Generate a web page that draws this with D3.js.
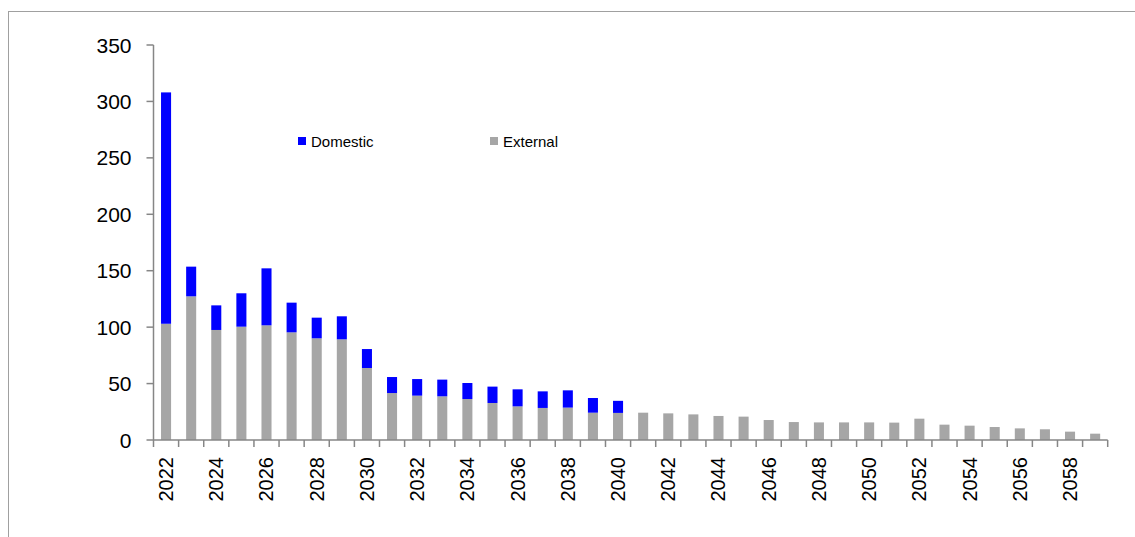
<!DOCTYPE html>
<html>
<head>
<meta charset="utf-8">
<script src="https://cdn.jsdelivr.net/npm/d3@7/dist/d3.min.js"></script>
<style>
  html, body { margin: 0; padding: 0; background: #fff; }
  svg { display: block; }
  text { font-family: "Liberation Sans", Arial, sans-serif; fill: #000; }
</style>
</head>
<body>
<svg id="chart" width="1135" height="537"></svg>
<script>
const years = d3.range(2022, 2060).map(String);
const domestic = [205, 26.3, 21.8, 29.6, 50.5, 26.3, 18.3, 20.4, 16.8, 14.2,
                  14.7, 14.8, 14.2, 14.5, 15.1, 14.7, 15.3, 13.0, 10.7, 0,
                  0, 0, 0, 0, 0, 0, 0, 0, 0, 0,
                  0, 0, 0, 0, 0, 0, 0, 0];
const external = [103, 127.3, 97.5, 100.4, 101.6, 95.4, 90.1, 89.2, 63.8, 41.6,
                  39.3, 38.7, 36.3, 32.8, 29.8, 28.4, 28.7, 24.2, 24.0, 24.2,
                  23.6, 22.7, 21.3, 20.7, 17.7, 15.9, 15.6, 15.6, 15.6, 15.4,
                  18.9, 13.6, 12.7, 11.5, 10.3, 9.5, 7.4, 5.6];
const yTicks = [0, 50, 100, 150, 200, 250, 300, 350];
const xLabels = years.filter((y, i) => i % 2 === 0);
const seriesNames = ["Domestic", "External"];
const seriesColors = ["#0000FF", "#A6A6A6"];

const svg = d3.select("#chart");

// outer frame
svg.append("rect")
  .attr("x", 8.5).attr("y", 11.5)
  .attr("width", 1140).attr("height", 540)
  .attr("fill", "none").attr("stroke", "#a0a0a0").attr("stroke-width", 1);

const x0 = 153.5, x1 = 1107.7;
const x = d3.scaleBand().domain(years).range([x0, x1]).paddingInner(0.6).paddingOuter(0.3);
const y = d3.scaleLinear().domain([0, 350]).range([440, 45]);

const data = years.map((yr, i) => ({ year: yr, Domestic: domestic[i], External: external[i] }));
const stack = d3.stack().keys(["External", "Domestic"]);
const stacked = stack(data);
const colorOf = { Domestic: seriesColors[0], External: seriesColors[1] };

svg.append("g").selectAll("g")
  .data(stacked).join("g")
  .attr("fill", d => colorOf[d.key])
  .selectAll("rect")
  .data(d => d.filter(p => p[1] - p[0] > 0)).join("rect")
  .attr("x", d => x(d.data.year))
  .attr("width", x.bandwidth())
  .attr("y", d => y(d[1]))
  .attr("height", d => y(d[0]) - y(d[1]));

const axisColor = "#868686";

// y axis
const yAxis = svg.append("g");
yAxis.append("line")
  .attr("x1", x0).attr("x2", x0).attr("y1", y(350)).attr("y2", y(0))
  .attr("stroke", axisColor).attr("stroke-width", 1.5);
yAxis.selectAll("line.tick").data(yTicks).join("line").attr("class", "tick")
  .attr("x1", x0 - 7).attr("x2", x0)
  .attr("y1", d => y(d)).attr("y2", d => y(d))
  .attr("stroke", axisColor).attr("stroke-width", 1.5);
yAxis.selectAll("text").data(yTicks).join("text")
  .attr("x", 131.5).attr("y", d => y(d))
  .attr("text-anchor", "end").attr("dominant-baseline", "central")
  .style("font-size", "21px")
  .text(d => d);

// x axis
const xAxis = svg.append("g");
xAxis.append("line")
  .attr("x1", x0).attr("x2", x1).attr("y1", y(0)).attr("y2", y(0))
  .attr("stroke", axisColor).attr("stroke-width", 1.5);
const step = x.step();
xAxis.selectAll("line.tick").data(d3.range(years.length + 1)).join("line").attr("class", "tick")
  .attr("x1", i => x0 + i * step).attr("x2", i => x0 + i * step)
  .attr("y1", y(0)).attr("y2", y(0) + 7)
  .attr("stroke", axisColor).attr("stroke-width", 1.5);
xAxis.selectAll("text").data(xLabels).join("text")
  .attr("transform", d => `translate(${x(d) + x.bandwidth() / 2},457) rotate(-90)`)
  .attr("text-anchor", "end").attr("dominant-baseline", "central")
  .style("font-size", "20px")
  .text(d => d);

// legend
const legendPos = [{ sx: 298, tx: 311 }, { sx: 490, tx: 503 }];
const legend = svg.append("g");
seriesNames.forEach((name, i) => {
  legend.append("rect")
    .attr("x", legendPos[i].sx).attr("y", 137)
    .attr("width", 8).attr("height", 8)
    .attr("fill", seriesColors[i]);
  legend.append("text")
    .attr("x", legendPos[i].tx).attr("y", 141)
    .attr("dominant-baseline", "central")
    .style("font-size", "15px")
    .text(name);
});
</script>
</body>
</html>
